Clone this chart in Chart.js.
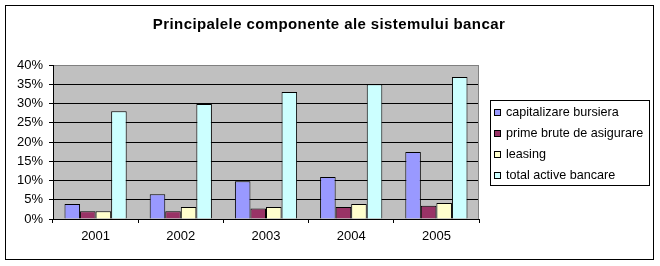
<!DOCTYPE html>
<html>
<head>
<meta charset="utf-8">
<script src="https://cdn.jsdelivr.net/npm/chart.js@4"></script>
<style>
  html, body { margin: 0; padding: 0; background: #fff; }
  canvas { display: block; }
</style>
</head>
<body>
<canvas id="bankChart" width="660" height="266"></canvas>
<script>
const years = ["2001", "2002", "2003", "2004", "2005"];
const seriesNames = ["capitalizare bursiera", "prime brute de asigurare", "leasing", "total active bancare"];
const capitalizare = [3.9, 6.4, 9.8, 10.9, 17.4];
const primeBrute = [2.0, 2.0, 2.75, 3.1, 3.45];
const leasing = [2.0, 3.1, 3.1, 3.9, 4.15];
const totalActive = [28.0, 29.9, 33.0, 35.0, 36.9];
const yTicks = [0, 5, 10, 15, 20, 25, 30, 35, 40];
const chartTitle = "Principalele componente ale sistemului bancar";

const seriesColors = ["#9999ff", "#993366", "#ffffcc", "#ccffff"];
const font = "'Liberation Sans', Arial, sans-serif";

// plot background, title, outer frame and the boxed legend like the Excel original
const excelLook = {
  id: "excelLook",
  beforeDraw(chart) {
    const { ctx, chartArea: a } = chart;
    ctx.save();
    ctx.fillStyle = "#ffffff";
    ctx.fillRect(0, 0, chart.width, chart.height);
    ctx.fillStyle = "#c0c0c0";
    ctx.fillRect(a.left, a.top, a.right - a.left, a.bottom - a.top);
    ctx.restore();
  },
  afterDraw(chart) {
    const { ctx, chartArea: a } = chart;
    ctx.save();
    ctx.lineWidth = 1;
    // grey right edge of the plot area
    ctx.strokeStyle = "#808080";
    ctx.beginPath();
    ctx.moveTo(Math.round(a.right) - 0.5, a.top);
    ctx.lineTo(Math.round(a.right) - 0.5, a.bottom);
    ctx.stroke();
    // outer frame
    ctx.strokeStyle = "#000000";
    ctx.strokeRect(5.5, 5.5, 648, 254);
    // title
    ctx.fillStyle = "#000000";
    ctx.font = "bold 15px " + font;
    ctx.letterSpacing = "0.4px";
    ctx.textAlign = "center";
    ctx.textBaseline = "alphabetic";
    ctx.fillText(chartTitle, 329, 29);
    ctx.letterSpacing = "0px";
    // legend
    ctx.textAlign = "left";
    ctx.strokeRect(490.5, 100.5, 159, 85);
    ctx.font = "12.6px " + font;
    ctx.textBaseline = "middle";
    chart.data.datasets.forEach((ds, i) => {
      const y = 112 + i * 21;
      ctx.fillStyle = ds.backgroundColor;
      ctx.fillRect(494, y - 3, 7, 7);
      ctx.strokeRect(494.5, y - 2.5, 6, 6);
      ctx.fillStyle = "#000000";
      ctx.fillText(ds.label, 506, y + 1);
    });
    ctx.restore();
  }
};

const seriesData = [capitalizare, primeBrute, leasing, totalActive];

new Chart(document.getElementById("bankChart"), {
  type: "bar",
  data: {
    labels: years,
    datasets: seriesNames.map((name, i) => ({
      label: name,
      data: seriesData[i],
      backgroundColor: seriesColors[i],
      borderColor: "#000000",
      borderWidth: 1,
      barPercentage: 1.0,
      categoryPercentage: 0.73
    }))
  },
  options: {
    responsive: false,
    animation: false,
    devicePixelRatio: 1,
    layout: { padding: { left: 0, top: 65, right: 181, bottom: 0 } },
    scales: {
      x: {
        afterFit(scale) { scale.height = 47; },
        grid: {
          display: true,
          drawOnChartArea: false,
          offset: true,
          tickLength: 4,
          color: "#000000"
        },
        border: { color: "#000000" },
        ticks: {
          color: "#000000",
          padding: 6,
          font: { family: font, size: 13 }
        }
      },
      y: {
        min: 0,
        max: 40,
        afterFit(scale) { scale.width = 53; },
        afterBuildTicks(scale) { scale.ticks = yTicks.map(v => ({ value: v })); },
        grid: {
          tickLength: 4,
          color: ctx => (ctx.tick && ctx.tick.value === 40 ? "#808080" : "#000000"),
          tickColor: "#000000"
        },
        border: { color: "#000000" },
        ticks: {
          color: "#000000",
          padding: 6,
          font: { family: font, size: 13 },
          callback: v => v + "%"
        }
      }
    },
    plugins: {
      legend: { display: false },
      tooltip: { enabled: false },
      title: { display: false }
    }
  },
  plugins: [excelLook]
});
</script>
</body>
</html>
